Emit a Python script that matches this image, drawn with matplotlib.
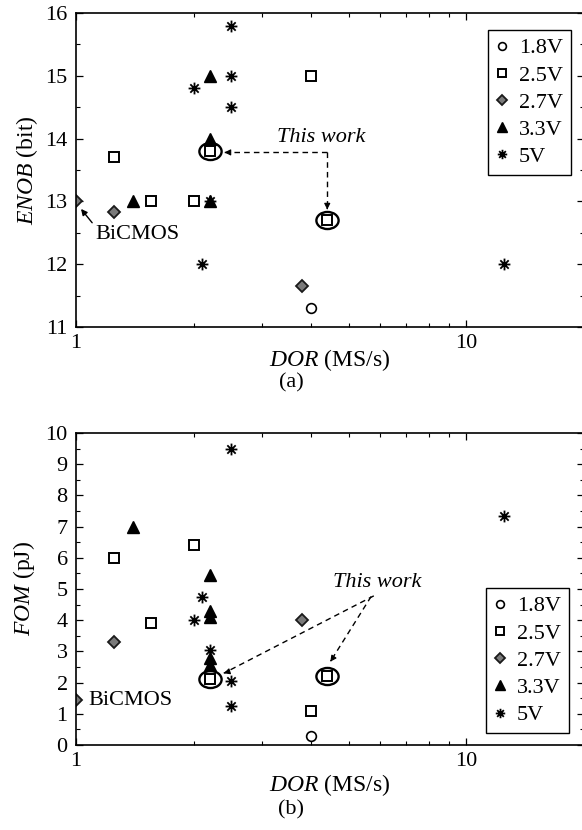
import numpy as np
import matplotlib
matplotlib.use('Agg')
import matplotlib.pyplot as plt
from matplotlib.path import Path
from matplotlib.transforms import Affine2D
from matplotlib.ticker import MultipleLocator, LogLocator, NullFormatter, FixedLocator, FixedFormatter

plt.rcParams['font.family'] = 'Liberation Serif'
plt.rcParams['mathtext.fontset'] = 'custom'
plt.rcParams['mathtext.it'] = 'Liberation Serif:italic'
plt.rcParams['mathtext.rm'] = 'Liberation Serif'

# ---- data: ENOB vs DOR (a) ----
enob_18_x = [4.0]
enob_18_y = [11.3]
enob_25_x = [1.25, 1.56, 2.0, 2.2, 4.0, 4.4]
enob_25_y = [13.7, 13.0, 13.0, 13.8, 15.0, 12.7]
enob_27_x = [1.0, 1.25, 3.8]
enob_27_y = [13.0, 12.83, 11.65]
enob_33_x = [1.4, 2.2, 2.2, 2.2]
enob_33_y = [13.0, 15.0, 14.0, 13.0]
enob_5_x = [2.0, 2.1, 2.2, 2.5, 2.5, 2.5, 12.5]
enob_5_y = [14.8, 12.0, 13.0, 15.8, 15.0, 14.5, 12.0]
enob_work_x = [2.2, 4.4]
enob_work_y = [13.8, 12.7]

# ---- data: FOM vs DOR (b) ----
fom_18_x = [4.0]
fom_18_y = [0.3]
fom_25_x = [1.25, 1.56, 2.0, 2.2, 4.0, 4.4]
fom_25_y = [6.0, 3.9, 6.4, 2.1, 1.1, 2.2]
fom_27_x = [1.0, 1.25, 3.8]
fom_27_y = [1.45, 3.3, 4.0]
fom_33_x = [1.4, 2.2, 2.2, 2.2, 2.2, 2.2]
fom_33_y = [7.0, 5.45, 4.3, 4.1, 2.8, 2.55]
fom_5_x = [2.0, 2.1, 2.2, 2.5, 2.5, 2.5, 12.5]
fom_5_y = [4.0, 4.75, 3.05, 9.5, 2.05, 1.25, 7.35]
fom_work_x = [2.2, 4.4]
fom_work_y = [2.12, 2.22]

labels = ['1.8V', '2.5V', '2.7V', '3.3V', '5V']

# asterisk marker (8 arms) and ellipse for "this work"
verts, codes = [], []
for a in np.deg2rad([0, 45, 90, 135]):
    verts += [(np.cos(a), np.sin(a)), (-np.cos(a), -np.sin(a))]
    codes += [Path.MOVETO, Path.LINETO]
asterisk = Path(verts, codes)
ellipse = Path.unit_circle().transformed(Affine2D().scale(1.3, 1.0))

fig = plt.figure(figsize=(5.82, 8.30), dpi=100)
ax1 = fig.add_axes([76/582, 1-327/830, 508/582, 314/830])
ax2 = fig.add_axes([76/582, 1-745/830, 508/582, 312/830])


def draw(ax, s18, s25, s27, s33, s5, work, xpad):
    ax.plot(*s18, ls='none', marker='o', ms=7, mfc='white', mec='black', mew=1.2, label=labels[0])
    ax.plot(*s25, ls='none', marker='s', ms=7, mfc='white', mec='black', mew=1.4, label=labels[1])
    ax.plot(*s27, ls='none', marker='D', ms=5.8, mfc='#7a7a7a', mec='#1a1a1a', mew=1.3, label=labels[2])
    ax.plot(*s33, ls='none', marker='^', ms=9, mfc='black', mec='black', label=labels[3])
    ax.plot(*s5, ls='none', marker=asterisk, ms=8.5, mfc='none', mec='black', mew=1.3, label=labels[4])
    ax.plot(*work, ls='none', marker=ellipse, ms=16, mfc='none', mec='black', mew=1.7)
    ax.set_xscale('log')
    ax.set_xlim(1, 20)
    ax.xaxis.set_major_locator(FixedLocator([1, 10]))
    ax.xaxis.set_major_formatter(FixedFormatter(['1', '10']))
    ax.xaxis.set_minor_locator(LogLocator(base=10, subs=np.arange(2, 10)))
    ax.xaxis.set_minor_formatter(NullFormatter())
    ax.tick_params(which='both', direction='in', top=True, right=True, labelsize=16)
    ax.tick_params(which='major', length=5, width=0.9)
    ax.tick_params(which='minor', length=3, width=0.8)
    ax.tick_params(axis='y', pad=6)
    ax.tick_params(axis='x', pad=5)
    for sp in ax.spines.values():
        sp.set_linewidth(1.2)
    ax.set_xlabel(r'$\mathit{DOR}$ (MS/s)', fontsize=17, labelpad=xpad)
    leg = ax.legend(fancybox=False, edgecolor='black', framealpha=1, fontsize=16,
                    handlelength=0.6, handletextpad=0.45, labelspacing=0.3,
                    borderpad=0.35, borderaxespad=0, markerscale=0.8)
    leg.get_frame().set_linewidth(1.0)
    return leg


def dashed_arrow(ax, start, tip):
    ax.plot([start[0], tip[0]], [start[1], tip[1]], color='black', ls=(0, (4, 3)), lw=1.0)
    ax.annotate('', xy=tip, xytext=(tip[0] + (start[0]-tip[0])*0.02, tip[1] + (start[1]-tip[1])*0.02),
                arrowprops=dict(arrowstyle='-|>', color='black', lw=0.8,
                                mutation_scale=9, shrinkA=0, shrinkB=0))


# (a)
leg1 = draw(ax1, (enob_18_x, enob_18_y), (enob_25_x, enob_25_y), (enob_27_x, enob_27_y),
            (enob_33_x, enob_33_y), (enob_5_x, enob_5_y), (enob_work_x, enob_work_y), -4)
leg1.set_loc('upper right')
leg1.set_bbox_to_anchor((0.974, 0.946), transform=ax1.transAxes)
ax1.set_ylim(11, 16)
ax1.yaxis.set_major_locator(MultipleLocator(1))
ax1.yaxis.set_minor_locator(MultipleLocator(0.5))
ax1.set_ylabel(r'$\mathit{ENOB}$ (bit)', fontsize=17, labelpad=4)
ax1.text(4.25, 14.02, 'This work', fontsize=16, style='italic', ha='center', va='center')
dashed_arrow(ax1, (4.4, 13.78), (2.4, 13.78))
dashed_arrow(ax1, (4.4, 13.78), (4.4, 12.87))
ax1.text(1.12, 12.47, 'BiCMOS', fontsize=16, ha='left', va='center')
ax1.annotate('', xy=(1.03, 12.88), xytext=(1.1, 12.66),
             arrowprops=dict(arrowstyle='-|>', color='black', lw=1.0,
                             mutation_scale=9, shrinkA=0, shrinkB=0))

# (b)
leg2 = draw(ax2, (fom_18_x, fom_18_y), (fom_25_x, fom_25_y), (fom_27_x, fom_27_y),
            (fom_33_x, fom_33_y), (fom_5_x, fom_5_y), (fom_work_x, fom_work_y), 1)
leg2.set_loc('upper right')
leg2.set_bbox_to_anchor((0.970, 0.503), transform=ax2.transAxes)
ax2.set_ylim(0, 10)
ax2.yaxis.set_major_locator(MultipleLocator(1))
ax2.yaxis.set_minor_locator(MultipleLocator(0.5))
ax2.set_ylabel(r'$\mathit{FOM}$ (pJ)', fontsize=17, labelpad=6)
ax2.text(5.9, 5.22, 'This work', fontsize=16, style='italic', ha='center', va='center')
dashed_arrow(ax2, (5.79, 4.78), (2.39, 2.3))
dashed_arrow(ax2, (5.7, 4.76), (4.48, 2.67))
ax2.text(1.073, 1.44, 'BiCMOS', fontsize=16, ha='left', va='center')

fig.text(291/582, 1-383/830, '(a)', fontsize=16, ha='center', va='center')
fig.text(291/582, 1-810/830, '(b)', fontsize=16, ha='center', va='center')

fig.savefig('out.png', dpi=100)
